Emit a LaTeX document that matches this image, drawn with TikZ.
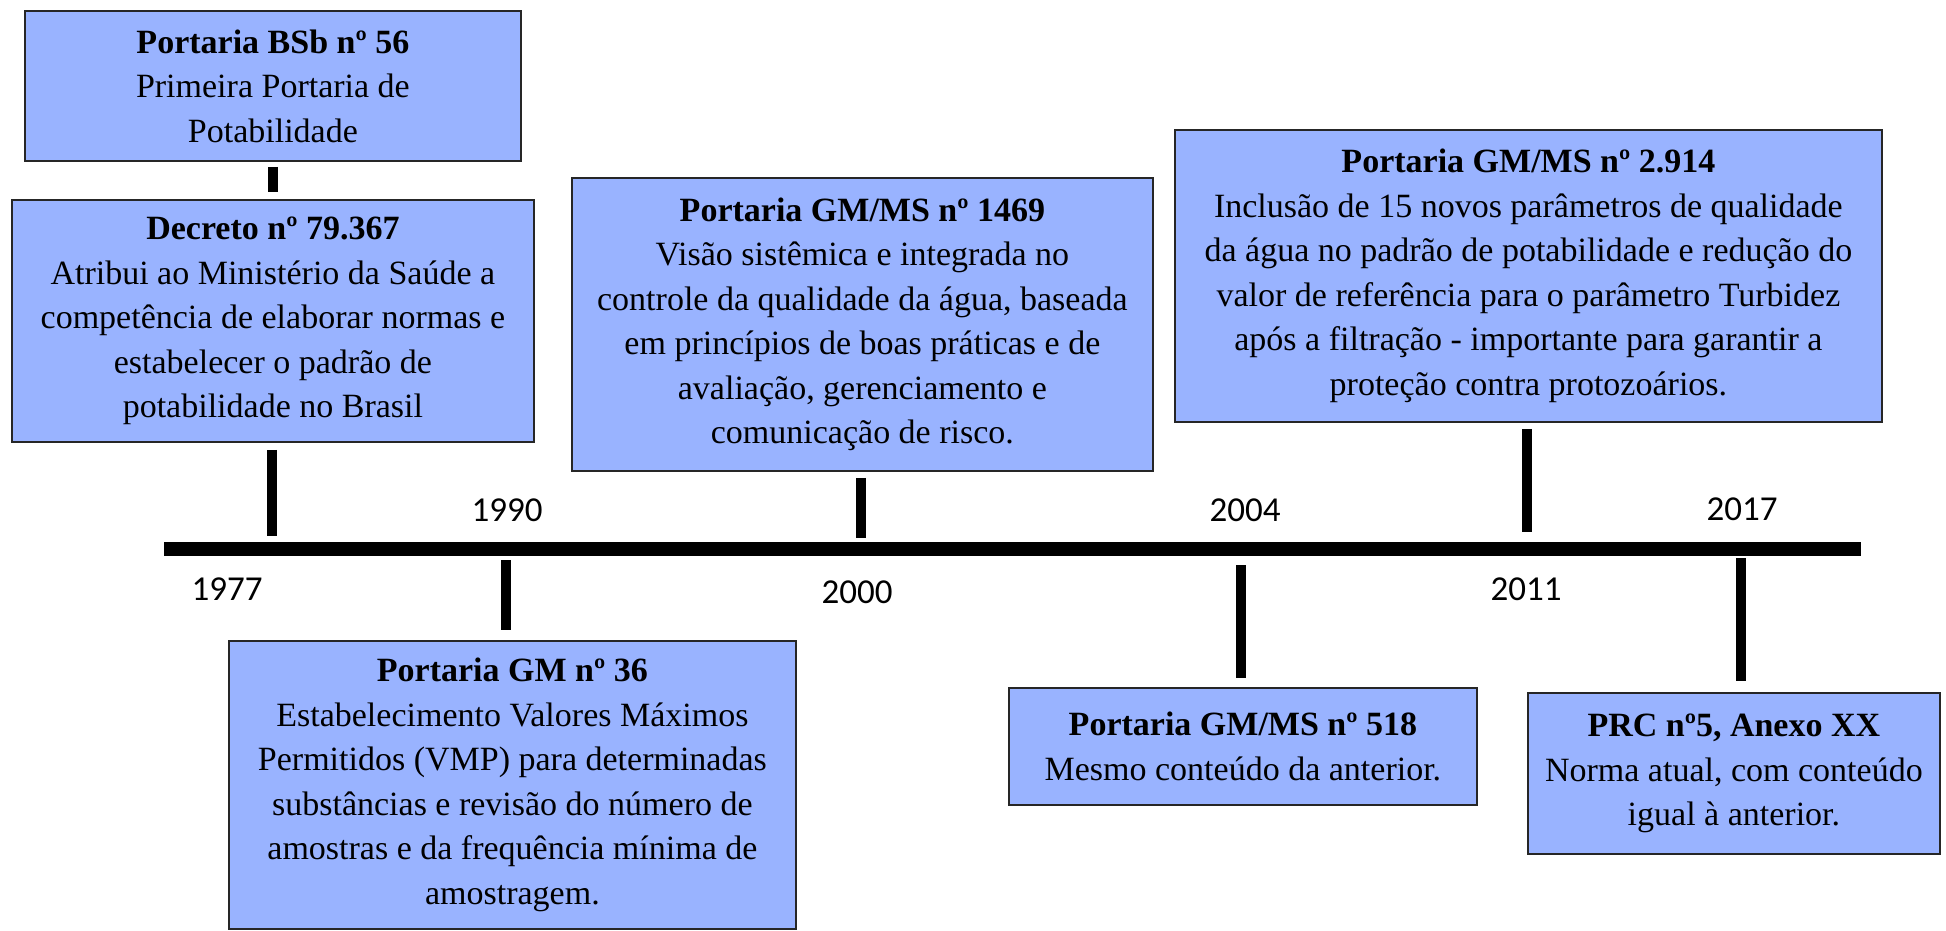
\documentclass[tikz,border=0pt]{standalone}
\usepackage{fontspec}
\setmainfont{Liberation Serif}
\newfontfamily\yearfont{Carlito}
\definecolor{boxblue}{RGB}{153,179,255}
\begin{document}
\begin{tikzpicture}[x=1pt,y=1pt,
  evbox/.style={draw=black!85, line width=1.8pt, fill=boxblue, inner sep=0pt,
    align=center, font=\fontsize{34}{44.5}\selectfont, anchor=north west},
  tickline/.style={line width=9.5pt, black},
  axisline/.style={line width=14pt, black},
  year/.style={font=\yearfont\fontsize{35}{42}\selectfont, inner sep=0pt}]
\useasboundingbox (0,0) rectangle (1946,-931);
\fill[white] (0,0) rectangle (1946,-931);

% event boxes
\node[evbox, minimum width=496pt, minimum height=150pt] (bsb) at (24,-10)
  {\textbf{Portaria BSb nº 56}\\Primeira Portaria de\\Potabilidade};
\node[evbox, minimum width=522pt, minimum height=242pt] (dec) at (11,-199)
  {\textbf{Decreto nº 79.367}\\Atribui ao Ministério da Saúde a\\competência de elaborar normas e\\estabelecer o padrão de\\potabilidade no Brasil};
\node[evbox, minimum width=581pt, minimum height=293pt] (p1469) at (571,-177)
  {\textbf{Portaria GM/MS nº 1469}\\Visão sistêmica e integrada no\\controle da qualidade da água, baseada\\em princípios de boas práticas e de\\avaliação, gerenciamento e\\comunicação de risco.};
\node[evbox, minimum width=707pt, minimum height=292pt] (p2914) at (1174,-129)
  {\textbf{Portaria GM/MS nº 2.914}\\Inclusão de 15 novos parâmetros de qualidade\\da água no padrão de potabilidade e redução do\\valor de referência para o parâmetro Turbidez\\após a filtração - importante para garantir a\\proteção contra protozoários.};
\node[evbox, minimum width=567pt, minimum height=288pt] (gm36) at (228,-640)
  {\textbf{Portaria GM nº 36}\\Estabelecimento Valores Máximos\\Permitidos (VMP) para determinadas\\substâncias e revisão do número de\\amostras e da frequência mínima de\\amostragem.};
\node[evbox, minimum width=468pt, minimum height=117pt] (p518) at (1008,-687)
  {\textbf{Portaria GM/MS nº 518}\\Mesmo conteúdo da anterior.};
\node[evbox, minimum width=412pt, minimum height=161pt] (prc) at (1527,-692)
  {\textbf{PRC nº5, Anexo XX}\\Norma atual, com conteúdo\\igual à anterior.};

% timeline
\coordinate (tlA) at (164,-549);
\coordinate (tlB) at (1861,-549);
\draw[axisline] (tlA) -- (tlB);

% tick anchors on the timeline edges
\coordinate (t1977) at (272,-542);
\coordinate (t1990) at (506,-556);
\coordinate (t2000) at (861,-542);
\coordinate (t2004) at (1241,-556);
\coordinate (t2011) at (1527,-542);
\coordinate (t2017) at (1741,-556);

% ticks
\draw[tickline, shorten <=5pt, shorten >=7pt] (bsb.south) -- (dec.north);
\draw[tickline, shorten <=7pt, shorten >=6pt] (dec.south -| t1977) -- (t1977);
\draw[tickline, shorten <=6pt, shorten >=4pt] (p1469.south -| t2000) -- (t2000);
\draw[tickline, shorten <=6pt, shorten >=10pt] (p2914.south -| t2011) -- (t2011);
\draw[tickline, shorten <=4pt, shorten >=10pt] (t1990) -- (gm36.north -| t1990);
\draw[tickline, shorten <=9pt, shorten >=9pt] (t2004) -- (p518.north -| t2004);
\draw[tickline, shorten <=2pt, shorten >=11pt] (t2017) -- (prc.north -| t2017);

% year labels
\node[year] (y1977) at (227,-589) {1977};
\node[year] (y1990) at (507,-510) {1990};
\node[year] (y2000) at (857,-592) {2000};
\node[year] (y2004) at (1245,-510) {2004};
\node[year] (y2011) at (1526,-589) {2011};
\node[year] (y2017) at (1742,-509) {2017};
\end{tikzpicture}
\end{document}
